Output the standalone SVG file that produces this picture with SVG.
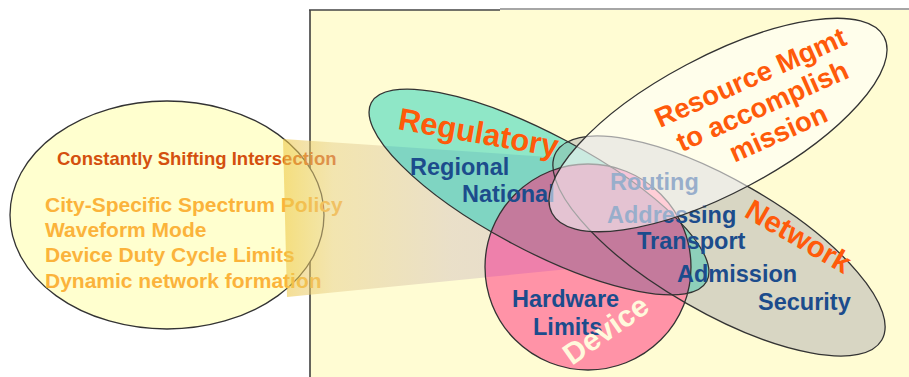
<svg xmlns="http://www.w3.org/2000/svg" width="909" height="377" viewBox="0 0 909 377">
<defs>
<style>
text{font-family:"Liberation Sans",Arial,sans-serif;font-weight:bold}
.out{fill:none;stroke:#333;stroke-width:1.3}
.blue{fill:#1C4C8C;font-size:23.5px}
.lbl{fill:#FF5A0A}
.left{fill:#FBB33B;font-size:21px}
</style>
<linearGradient id="wg" gradientUnits="userSpaceOnUse" x1="283" y1="0" x2="620" y2="0">
<stop offset="0" stop-color="#EEC846" stop-opacity="0.6"/>
<stop offset="0.15" stop-color="#E6CE8C" stop-opacity="0.5"/>
<stop offset="0.5" stop-color="#D8C8C0" stop-opacity="0.55"/>
<stop offset="1" stop-color="#CFBCC8" stop-opacity="0.55"/>
</linearGradient>
<ellipse id="regE" cx="0" cy="0" rx="190" ry="58" transform="translate(539,192) rotate(28)"/>
<ellipse id="netE" cx="0" cy="0" rx="188" ry="66" transform="translate(719,246) rotate(30)"/>
<polygon id="wedgeP" points="283,139 640,163 640,262 287,297"/>
<clipPath id="cDev"><circle cx="588" cy="267" r="103"/></clipPath>
<clipPath id="cWedge"><use href="#wedgeP"/></clipPath>
<clipPath id="cNet"><use href="#netE"/></clipPath>
</defs>

<rect x="310" y="10" width="599" height="367" fill="#FFFCD3"/>
<line x1="310" y1="10" x2="310" y2="377" stroke="#333" stroke-width="1.5"/>
<line x1="309" y1="10" x2="500" y2="10" stroke="#444" stroke-width="1.5"/>
<line x1="500" y1="9" x2="909" y2="9" stroke="#888" stroke-width="1.5"/>

<g id="left-ellipse">
<ellipse cx="167" cy="215" rx="157" ry="114" fill="#FFFFCF" stroke="#333" stroke-width="1.3"/>
<text x="57" y="165" fill="#D4500E" font-size="18.5">Constantly Shifting Intersection</text>
<text class="left" x="45" y="212">City-Specific Spectrum Policy</text>
<text class="left" x="45" y="237">Waveform Mode</text>
<text class="left" x="45" y="262">Device Duty Cycle Limits</text>
<text class="left" x="45" y="288">Dynamic network formation</text>
</g>

<g id="wedge">
<use href="#wedgeP" fill="url(#wg)"/>
</g>

<g id="network">
<use href="#netE" fill="#D8D6C3"/>
</g>

<g id="regulatory">
<use href="#regE" fill="#8FE7C7"/>
<g clip-path="url(#cWedge)"><use href="#regE" fill="#7FD5C2"/></g>
<g clip-path="url(#cNet)"><use href="#regE" fill="#8DD0BA"/></g>
</g>

<g id="device">
<circle cx="588" cy="267" r="103" fill="#FF93A7"/>
<g clip-path="url(#cDev)">
<use href="#wedgeP" fill="#EE80AB"/>
<use href="#regE" fill="#C47A9C"/>
</g>
</g>

<g id="outlines">
<use href="#netE" class="out"/>
<use href="#regE" class="out"/>
<circle class="out" cx="588" cy="267" r="103"/>
</g>

<g id="items">
<text class="blue" x="410" y="175">Regional</text>
<text class="blue" x="462" y="202">National</text>
<text class="blue" x="610" y="190">Routing</text>
<text class="blue" x="607" y="223">Addressing</text>
<text class="blue" x="637" y="249">Transport</text>
<text class="blue" x="677" y="282">Admission</text>
<text class="blue" x="758" y="310">Security</text>
<text class="blue" x="512" y="307">Hardware</text>
<text class="blue" x="533" y="335">Limits</text>
</g>

<g id="resource">
<ellipse cx="0" cy="0" rx="188" ry="68" transform="translate(718,125) rotate(-28)" fill="#FFFFFF" fill-opacity="0.55" stroke="#333" stroke-width="1.3"/>
<g transform="translate(660,128) rotate(-24)" font-size="27.5">
<text x="0" y="0" class="lbl">Resource Mgmt</text>
<text x="10" y="31" class="lbl">to accomplish</text>
<text x="54" y="62" class="lbl">mission</text>
</g>
</g>

<g id="labels">
<text class="lbl" font-size="31" transform="translate(397,129) rotate(10)">Regulatory</text>
<text class="lbl" font-size="29.5" transform="translate(743,216) rotate(30)">Network</text>
<text fill="#FFF9DC" font-size="30" transform="translate(572,366) rotate(-35)">Device</text>
</g>
</svg>
